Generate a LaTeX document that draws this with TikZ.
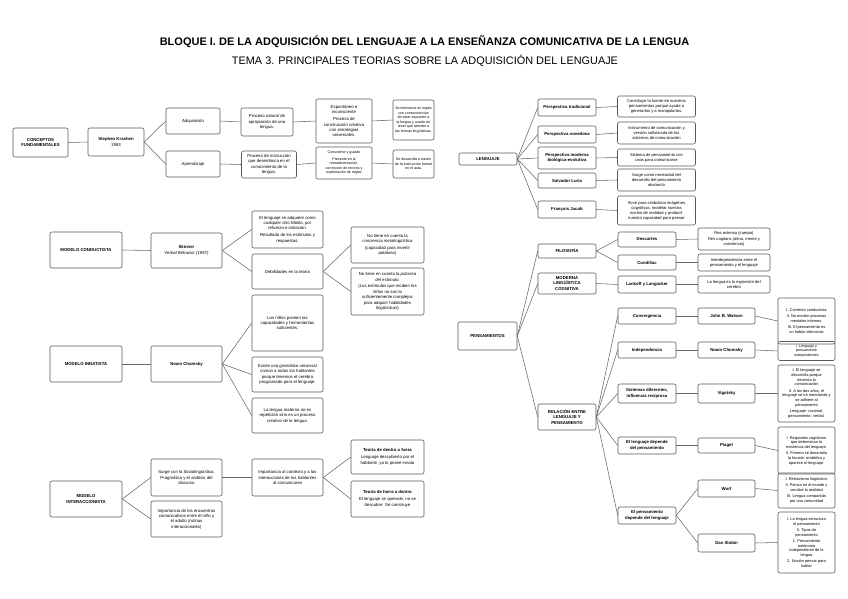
\documentclass[tikz,border=0pt]{standalone}
\usepackage{fontspec}
\setmainfont{Liberation Sans}
\usepackage{tikz}

\begin{document}
\begin{tikzpicture}[
  x=1pt, y=-1pt,
  every node/.style={draw=black!65, line width=0.6pt, rounded corners=2pt, align=center, inner sep=0.8pt, font=\fontsize{4.3}{5.4}\selectfont},
  negrita/.style={font=\fontsize{4.3}{5.4}\selectfont\bfseries},
  chica/.style={font=\fontsize{3.6}{4.6}\selectfont},
  dcha/.style={font=\fontsize{4.1}{5}\selectfont},
  mini/.style={font=\fontsize{3.9}{4.7}\selectfont},
  linea/.style={draw=black!60, line width=0.55pt}
]
\useasboundingbox (0,0) rectangle (848,599);

\node[draw=none, font=\fontsize{11}{12}\selectfont\bfseries] (bloque) at (424.5,42) {BLOQUE I. DE LA ADQUISICIÓN DEL LENGUAJE A LA ENSEÑANZA COMUNICATIVA DE LA LENGUA};
\node[draw=none, font=\fontsize{10.9}{12}\selectfont] (tema) at (425,60.5) {TEMA 3. PRINCIPALES TEORIAS SOBRE LA ADQUISICIÓN DEL LENGUAJE};

% Krashen
\node[negrita, minimum width=55, minimum height=29] (conceptos) at (40.5,142.5) {CONCEPTOS\\FUNDAMENTALES};
\node[minimum width=56, minimum height=28] (krashen) at (116,142) {\textbf{Stephen Krashen}\\[1pt]1983};
\node[minimum width=54, minimum height=26] (adquisicion) at (193,121) {Adquisición};
\node[minimum width=54, minimum height=26] (aprendizaje) at (193,164) {Aprendizaje};
\node[minimum width=52, minimum height=28] (natural) at (267,122) {Proceso natural de\\apropiación de una\\lengua.};
\node[minimum width=55, minimum height=27] (instruccion) at (269,164.5) {Proceso de instrucción\\que desemboca en el\\conocimiento de la\\lengua.};
\node[minimum width=56, minimum height=44] (espontaneo) at (344,121) {Espontáneo e\\inconsciente\\[1.5pt]Proceso de\\construcción creativa\\con estrategias\\universales.};
\node[chica, minimum width=56, minimum height=32] (consciente) at (344,163) {Consciente y guiado\\[1.5pt]Presente en la\\retroalimentación,\\corrección de errores y\\explicitación de reglas};
\node[chica, minimum width=41, minimum height=40] (interioriza) at (413.5,120) {Se interioriza en ingles\\con consecuencias\\de estar expuesto a\\la lengua y usarla sin\\tener que atender a\\las formas lingüísticas.};
\node[chica, minimum width=41, minimum height=28] (desarrolla) at (413.5,164) {Se desarrolla a través\\de la instrucción formal\\en el aula.};

% Conductista
\node[negrita, minimum width=72, minimum height=36] (conductista) at (86,250) {MODELO CONDUCTISTA};
\node[minimum width=71, minimum height=35] (skinner) at (186.5,250.5) {\textbf{Skinner}\\[1pt]\textit{Verbal Behavior (1957)}};
\node[minimum width=71, minimum height=37] (habito) at (287.5,229.5) {El lenguaje se adquiere como\\cualquier otro hábito, por\\refuerzo e imitación.\\[1.5pt]Resultado de los estímulos y\\respuestas.};
\node[minimum width=71, minimum height=35] (debilidades) at (287.5,271.5) {Debilidades en la teoría};
\node[minimum width=73, minimum height=36] (metaling) at (387.5,245) {No tiene en cuenta la\\\textit{conciencia metalingüística}\\[1.5pt](capacidad para invertir\\palabras)};
\node[minimum width=73, minimum height=47] (pobreza) at (387.5,291.5) {No tiene en cuenta la \textit{pobreza}\\\textit{del estímulo}.\\[1.5pt](Los estímulos que reciben los\\niños no son lo\\suficientemente complejos\\para adquirir habilidades\\lingüísticas)};

% Innatista
\node[negrita, minimum width=72, minimum height=36] (innatista) at (86,364) {MODELO INNATISTA};
\node[negrita, minimum width=71, minimum height=36] (chomsky) at (186.5,364) {Noam Chomsky};
\node[minimum width=71, minimum height=56] (suficientes) at (287.5,323) {Los niños poseen las\\capacidades y herramientas\\suficientes.};
\node[minimum width=71, minimum height=35] (gramatica) at (287.5,374.5) {Existe una gramática universal\\común a todos los hablantes\\porque tenemos el cerebro\\programado para el lenguaje.};
\node[minimum width=71, minimum height=35] (materna) at (287.5,415.5) {La lengua materna no es\\repetición sino es un proceso\\creativo de la lengua.};

% Interaccionista
\node[negrita, minimum width=72, minimum height=36] (interaccionista) at (86,499) {MODELO\\INTERACCIONISTA};
\node[minimum width=71, minimum height=37] (surge) at (186.5,477.5) {Surge con la Sociolingüística,\\Pragmática y el análisis del\\discurso};
\node[minimum width=71, minimum height=36] (encuentros) at (186.5,519) {Importancia de los encuentros\\comunicativos entre el niño y\\el adulto (rutinas\\interaccionales)};
\node[minimum width=71, minimum height=37] (contexto) at (287.5,477.5) {Importancia al contexto y a las\\interacciones de los hablantes\\al comunicarse};
\node[minimum width=73, minimum height=34] (dentro) at (387.5,457) {\textbf{Teoría de dentro a fuera}\\[1.5pt]Lenguaje descubierto por el\\hablante, ya lo posee innato};
\node[minimum width=73, minimum height=36] (fuera) at (387.5,499) {\textbf{Teoría de fuera a dentro}\\[1.5pt]El lenguaje se aprende, no se\\descubre. Se construye};

% Lenguaje
\node[negrita, minimum width=58, minimum height=12] (lenguaje) at (488,159) {LENGUAJE};
\node[negrita, minimum width=58, minimum height=17] (tradicional) at (567,107.5) {Perspectiva tradicional};
\node[negrita, minimum width=58, minimum height=17] (novedosa) at (567,134.5) {Perspectiva novedosa};
\node[negrita, minimum width=58, minimum height=22] (moderna) at (567,158) {Perspectiva moderna\\biológica-evolutiva};
\node[negrita, minimum width=58, minimum height=15] (luria) at (567,180.5) {Salvador Luria};
\node[negrita, minimum width=58, minimum height=17] (jacob) at (567,209.5) {François Jacob};
\node[dcha, minimum width=78, minimum height=21] (fuente) at (656.5,106.5) {Constituye la fuente de nuestros\\pensamientos porque ayuda a\\generarlos y a manipularlos.};
\node[dcha, minimum width=78, minimum height=22] (instrumento) at (656.5,133) {Instrumento de comunicación y\\versión sofisticada de los\\sistemas de comunicación};
\node[dcha, minimum width=78, minimum height=17] (sistema) at (656.5,157.5) {Sistema de pensamiento con\\usos para comunicarse};
\node[dcha, minimum width=78, minimum height=22] (necesidad) at (656.5,180) {Surge como necesidad del\\desarrollo del pensamiento\\abstracto};
\node[dcha, minimum width=78, minimum height=29] (simbolizar) at (656.5,210.5) {Sirve para simbolizar imágenes\\cognitivas, modelar nuestra\\noción de realidad y producir\\nuestra capacidad para pensar};

% Pensamientos
\node[negrita, minimum width=59, minimum height=28] (pensamientos) at (487.5,336) {PENSAMIENTOS};
\node[negrita, minimum width=58, minimum height=14] (filosofia) at (567,251) {FILOSOFÍA};
\node[negrita, minimum width=58, minimum height=21] (cognitiva) at (567,283.5) {MODERNA\\LINGÜÍSTICA\\COGNITIVA};
\node[negrita, minimum width=58, minimum height=26] (relacion) at (567,417) {RELACIÓN ENTRE\\LENGUAJE Y\\PENSAMIENTO};
\node[negrita, minimum width=58, minimum height=15] (descartes) at (647,239.5) {Descartes};
\node[negrita, minimum width=58, minimum height=15] (condillac) at (647,262.5) {Condillac};
\node[negrita, minimum width=58, minimum height=17] (lankoff) at (647,284.5) {Lankoff y Langacker};
\node[dcha, minimum width=72, minimum height=22] (res) at (734,239) {Res extensa (cuerpo)\\[1.5pt]Res cogitans (alma, mente y\\conciencia)};
\node[dcha, minimum width=72, minimum height=17] (interdep) at (734,262.5) {Interdependencia entre el\\pensamiento y el lenguaje};
\node[dcha, minimum width=72, minimum height=17] (expresion) at (734,284.5) {La lengua es la expresión del\\cerebro};

\node[negrita, minimum width=58, minimum height=16] (convergencia) at (647,316) {Convergencia};
\node[negrita, minimum width=58, minimum height=16] (independencia) at (647,350) {Independencia};
\node[negrita, minimum width=58, minimum height=19] (sistemas) at (647,393.5) {Sistemas diferentes,\\influencia recíproca};
\node[negrita, minimum width=58, minimum height=17] (lengdepende) at (647,445.5) {El lenguaje depende\\del pensamiento};
\node[negrita, minimum width=58, minimum height=17] (pensdepende) at (647,515.5) {El pensamiento\\depende del lenguaje};
\node[negrita, minimum width=57, minimum height=16] (watson) at (726.5,316) {John B. Watson};
\node[negrita, minimum width=57, minimum height=16] (chomskyb) at (726.5,350) {Noam Chomsky};
\node[negrita, minimum width=57, minimum height=19] (vigotsky) at (726.5,393.5) {Vigotsky};
\node[negrita, minimum width=57, minimum height=15] (piaget) at (726.5,445.5) {Piaget};
\node[negrita, minimum width=57, minimum height=17] (worf) at (726.5,488.5) {Worf};
\node[negrita, minimum width=57, minimum height=18] (slobin) at (726.5,543) {Dan Slobin};
\node[mini, minimum width=57, minimum height=46] (watsontxt) at (806.5,321) {I. Corriente conductista\\[1.5pt]II. No existen procesos\\mentales internos.\\[1.5pt]III. El pensamiento es\\un hábito silencioso};
\node[chica, minimum width=57, minimum height=19] (chomskytxt) at (806.5,351) {I. Lenguaje y\\pensamiento\\independientes};
\node[mini, minimum width=57, minimum height=57] (vigotskytxt) at (806.5,393.5) {I. El lenguaje se\\desarrolla porque\\necesita la\\comunicación\\[1.5pt]II. A los dos años, el\\lenguaje se irá mezclando y\\se adhiere al\\pensamiento\\[1.5pt]Lenguaje: racional,\\pensamiento: verbal.};
\node[mini, minimum width=57, minimum height=47] (piagettxt) at (806.5,450.5) {I. Requisitos cognitivos\\que determinan la\\existencia del lenguaje.\\[1.5pt]II. Primero se desarrolla\\la función simbólica y\\aparece el lenguaje.};
\node[mini, minimum width=57, minimum height=35] (worftxt) at (806.5,490.5) {I. Relativismo lingüístico\\[1.5pt]II. Piensa en el mundo y\\concibe la realidad\\[1.5pt]III. Lengua compartida\\por una comunidad};
\node[mini, minimum width=57, minimum height=61] (slobintxt) at (806.5,542.5) {I. La lengua estructura\\el pensamiento\\[1.5pt]II. Tipos de\\pensamiento\\[1.5pt]1. Pensamiento\\autónomo\\independiente de la\\lengua\\[1.5pt]2. Noción pensar para\\hablar};

% conectores
\draw[linea] (conceptos.east) -- (krashen.west);
\draw[linea] (krashen.east) -- (adquisicion.west);
\draw[linea] (krashen.east) -- (aprendizaje.west);
\draw[linea] (adquisicion.east) -- (natural.west);
\draw[linea] (aprendizaje.east) -- (instruccion.west);
\draw[linea] (natural.east) -- (espontaneo.west);
\draw[linea] (instruccion.east) -- (consciente.west);
\draw[linea] (espontaneo.east) -- (interioriza.west);
\draw[linea] (consciente.east) -- (desarrolla.west);

\draw[linea] (conductista.east) -- (skinner.west);
\draw[linea] (skinner.east) -- (habito.west);
\draw[linea] (skinner.east) -- (debilidades.west);
\draw[linea] (debilidades.east) -- (metaling.west);
\draw[linea] (debilidades.east) -- (pobreza.west);

\draw[linea] (innatista.east) -- (chomsky.west);
\foreach \n in {suficientes, gramatica, materna}
  \draw[linea] (chomsky.east) -- (\n.west);

\draw[linea] (interaccionista.east) -- (surge.west);
\draw[linea] (interaccionista.east) -- (encuentros.west);
\draw[linea] (surge.east) -- (contexto.west);
\draw[linea] (contexto.east) -- (dentro.west);
\draw[linea] (contexto.east) -- (fuera.west);

\foreach \a/\b in {tradicional/fuente, novedosa/instrumento, moderna/sistema, luria/necesidad, jacob/simbolizar} {
  \draw[linea] (lenguaje.east) -- (\a.west);
  \draw[linea] (\a.east) -- (\b.west);
}

\foreach \n in {filosofia, cognitiva, relacion}
  \draw[linea] (pensamientos.east) -- (\n.west);
\draw[linea] (filosofia.east) -- (descartes.west);
\draw[linea] (filosofia.east) -- (condillac.west);
\draw[linea] (cognitiva.east) -- (lankoff.west);
\draw[linea] (descartes.east) -- (res.west);
\draw[linea] (condillac.east) -- (interdep.west);
\draw[linea] (lankoff.east) -- (expresion.west);

\foreach \n in {convergencia, independencia, sistemas, lengdepende, pensdepende}
  \draw[linea] (relacion.east) -- (\n.west);
\foreach \a/\b/\c in {convergencia/watson/watsontxt, independencia/chomskyb/chomskytxt, sistemas/vigotsky/vigotskytxt, lengdepende/piaget/piagettxt} {
  \draw[linea] (\a.east) -- (\b.west);
  \draw[linea] (\b.east) -- (\c.west);
}
\draw[linea] (pensdepende.east) -- (worf.west);
\draw[linea] (pensdepende.east) -- (slobin.west);
\draw[linea] (worf.east) -- (worftxt.west);
\draw[linea] (slobin.east) -- (slobintxt.west);
\end{tikzpicture}
\end{document}
